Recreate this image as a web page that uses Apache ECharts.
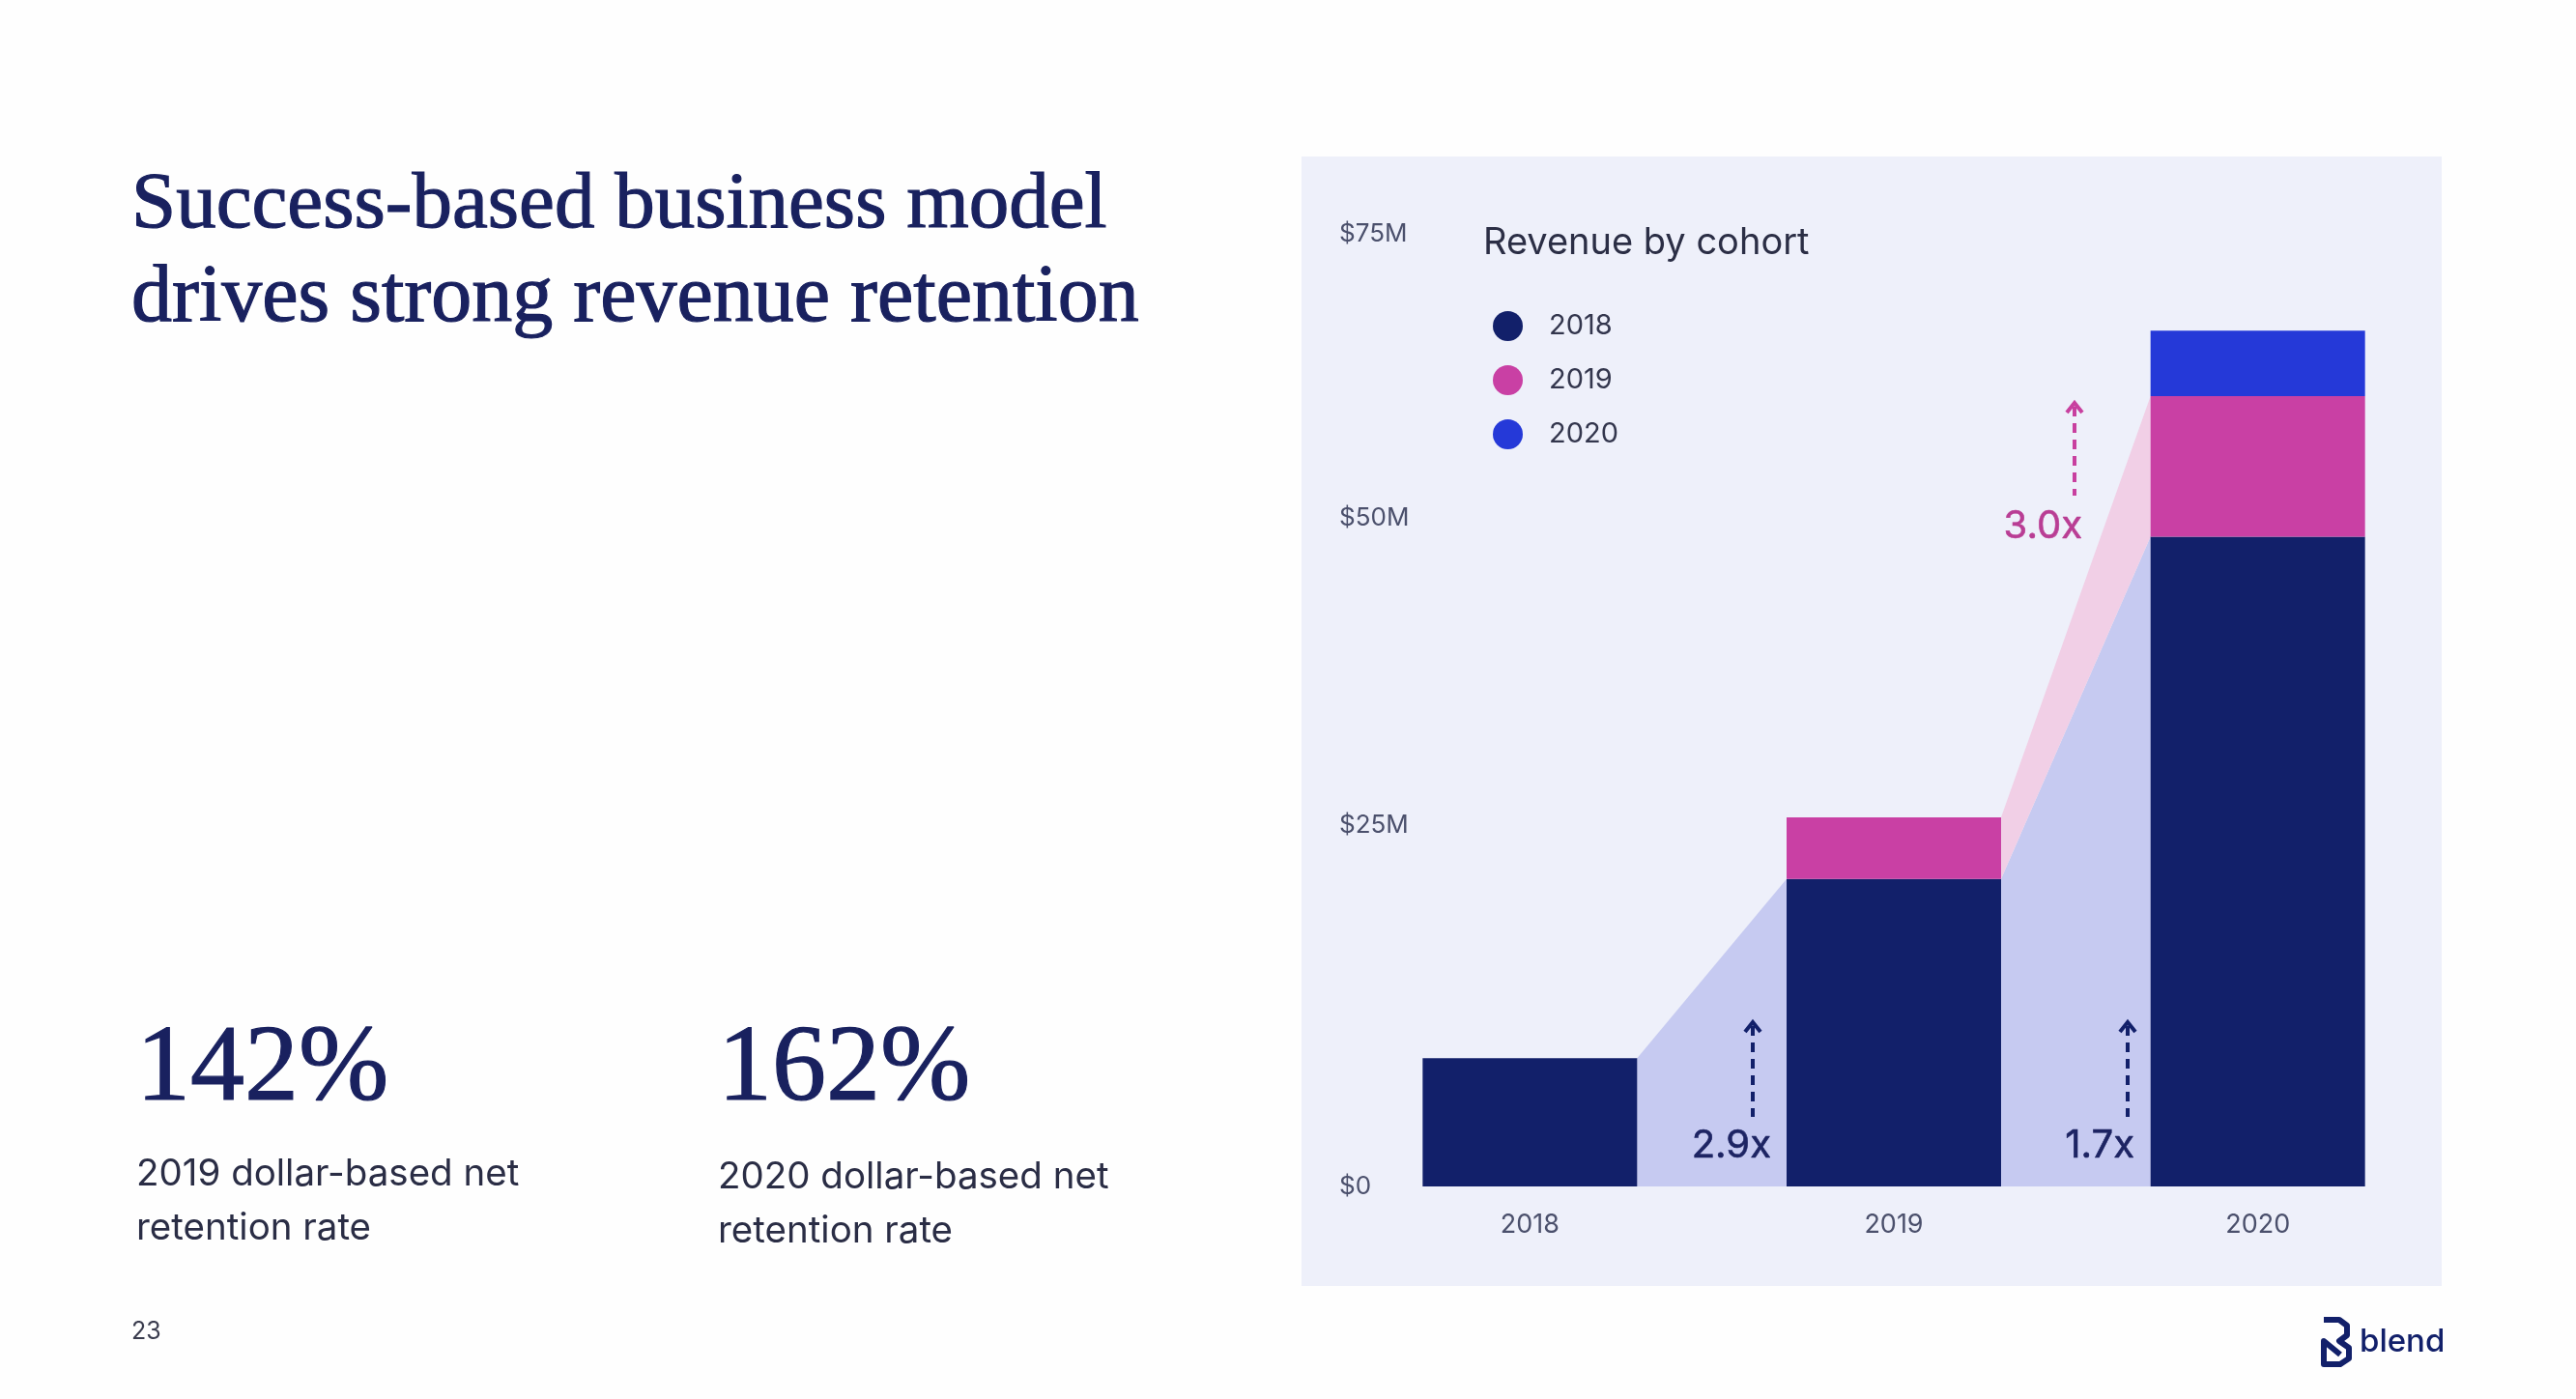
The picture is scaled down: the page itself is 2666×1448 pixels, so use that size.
<!DOCTYPE html>
<html><head><meta charset="utf-8">
<script src="https://cdn.jsdelivr.net/npm/echarts@6.0.0/dist/echarts.min.js"></script>
<style>html,body{margin:0;padding:0;background:#fefefe;}#c{width:2666px;height:1448px;}</style>
</head><body><div id="c"></div>
<script>
// ---- data ($M) ----
const years = ['2018', '2019', '2020'];
const cohortNames = ['2018', '2019', '2020'];
const cohort2018 = [9.6, 23.0, 48.6];
const cohort2019 = [null, 4.6, 10.5];
const cohort2020 = [null, null, 4.9];
const yTickLabels = ['$0', '$25M', '$50M', '$75M'];
const yTickValues = [0, 27.0, 50, 71.2];
const multipleLabels = ['2.9x', '1.7x', '3.0x'];

// ---- styles ----
const NAVY = '#12206a', PINK = '#c940a4', BLUE = '#2539d8';
const BAND = ['#c6caf1', '#f1cfe6', '#dfe3fb'];
const BAR_W = 222;
const SERIF = '"Liberation Serif", serif';
const SANS = 'Inter, "Noto Sans", sans-serif';

const cohorts = [cohort2018, cohort2019, cohort2020];
const colors = [NAVY, PINK, BLUE];

// band polygons connecting a cohort's segment in consecutive years
const bandData = [];
cohorts.forEach((arr, c) => {
  for (let i = 0; i < arr.length - 1; i++) {
    if (arr[i] == null || arr[i + 1] == null) continue;
    const lo = j => cohorts.slice(0, c).reduce((s, a) => s + (a[j] || 0), 0);
    bandData.push([i, lo(i), lo(i) + arr[i], lo(i + 1), lo(i + 1) + arr[i + 1], c]);
  }
});

const chart = echarts.init(document.getElementById('c'), null, {renderer: 'canvas'});

const series = cohorts.map((arr, k) => ({
  name: cohortNames[k], type: 'bar', stack: 'rev', barWidth: BAR_W, z: 3,
  itemStyle: {color: colors[k]},
  data: arr.map(v => v == null ? '-' : v)
}));

series.push({
  type: 'custom', z: 1, silent: true,
  encode: {x: 0, y: [1, 2, 3, 4]},
  data: bandData,
  renderItem: function (params, api) {
    const i = api.value(0);
    const a = api.coord([i, api.value(1)]);
    const b = api.coord([i, api.value(2)]);
    const c = api.coord([i + 1, api.value(3)]);
    const d = api.coord([i + 1, api.value(4)]);
    const x0 = a[0] + BAR_W / 2, x1 = c[0] - BAR_W / 2;
    return {
      type: 'polygon',
      shape: {points: [[x0, a[1]], [x0, b[1]], [x1, d[1]], [x1, c[1]]]},
      style: {fill: BAND[api.value(5)]}
    };
  }
});

function arrow(x, y0, y1, color) {
  return [
    {type: 'line', z: 20, shape: {x1: x, y1: y0 + 4, x2: x, y2: y1},
     style: {stroke: color, lineWidth: 4, lineDash: [10, 7]}},
    {type: 'polyline', z: 20, shape: {points: [[x - 8, y0 + 10], [x, y0], [x + 8, y0 + 10]]},
     style: {stroke: color, lineWidth: 4, fill: null}}
  ];
}
function label(text, xr, y, color) {
  return {type: 'text', z: 20, style: {text: text, x: xr, y: y, align: 'right', verticalAlign: 'middle',
    font: '40px ' + SANS, fill: color, stroke: color, lineWidth: 0.6}};
}
function txt(text, x, y, font, fill, sw) {
  const st = {text: text, x: x, y: y, verticalAlign: 'middle', font: font, fill: fill};
  if (sw) { st.stroke = fill; st.lineWidth = sw; }
  return {type: 'text', z: 20, style: st};
}

const TITLE_C = '#19215f';
const graphics = [
  {type: 'rect', z: -100, shape: {x: 1347, y: 162, width: 1180, height: 1169}, style: {fill: '#eef0fa'}},
  txt('Success-based business model', 136, 213, '83px ' + SERIF, TITLE_C, 1.2),
  txt('drives strong revenue retention', 136, 310, '84px ' + SERIF, TITLE_C, 1.2),
  txt('142%', 141, 1109, '112px ' + SERIF, TITLE_C, 1.2),
  txt('162%', 743, 1109, '112px ' + SERIF, TITLE_C, 1.2),
  txt('2019 dollar-based net', 141, 1215, '38.5px ' + SANS, '#2a2d45'),
  txt('retention rate', 141, 1271, '38.5px ' + SANS, '#2a2d45'),
  txt('2020 dollar-based net', 743, 1218, '38.5px ' + SANS, '#2a2d45'),
  txt('retention rate', 743, 1274, '38.5px ' + SANS, '#2a2d45'),
  txt('23', 136, 1378, '25px ' + SANS, '#3a3c4e'),
  // blend logo (approximate mark + word)
  {type: 'polyline', z: 20, shape: {points: [[2405, 1366], [2421, 1366], [2429, 1372], [2429, 1382], [2421, 1388],
      [2431, 1395], [2431, 1406], [2422, 1412], [2405, 1412], [2405, 1388], [2422, 1402]]},
   style: {stroke: NAVY, lineWidth: 6, fill: null, lineJoin: 'round'}},
  txt('blend', 2442, 1389, '500 33px ' + SANS, NAVY),
  ...arrow(1814, 1058, 1156, NAVY),
  label(multipleLabels[0], 1833, 1186, '#1d2463'),
  ...arrow(2202, 1058, 1156, NAVY),
  label(multipleLabels[1], 2209, 1186, '#1d2463'),
  ...arrow(2147, 417, 513, '#c8409f'),
  label(multipleLabels[2], 2155, 545, '#b93d94')
];

chart.setOption({
  backgroundColor: '#fefefe',
  animation: false,
  title: {text: 'Revenue by cohort', left: 1530, top: 228,
    textStyle: {fontFamily: SANS, fontSize: 38, fontWeight: 'normal', color: '#2b2e45'}},
  legend: {data: cohortNames, orient: 'vertical', left: 1540, top: 317, icon: 'circle',
    itemWidth: 31, itemHeight: 31, itemGap: 25,
    textStyle: {fontFamily: SANS, fontSize: 29, color: '#33364d', padding: [0, 0, 0, 22]}},
  grid: {left: 1395, right: 141, top: 190, bottom: 220, containLabel: false},
  xAxis: {type: 'category', data: years, axisLine: {show: false}, axisTick: {show: false},
    axisLabel: {margin: 26, fontFamily: SANS, fontSize: 27, color: '#4b506c'}},
  yAxis: {type: 'value', min: 0, max: 75, splitLine: {show: false}, axisLine: {show: false},
    axisTick: {show: false},
    axisLabel: {customValues: yTickValues, align: 'left', margin: 9, fontFamily: SANS, fontSize: 26,
      color: '#4b506c',
      formatter: function (v) {
        let best = 0;
        yTickValues.forEach((t, k) => { if (Math.abs(t - v) < Math.abs(yTickValues[best] - v)) best = k; });
        return yTickLabels[best];
      }}},
  graphic: graphics,
  series: series
});
</script></body></html>
